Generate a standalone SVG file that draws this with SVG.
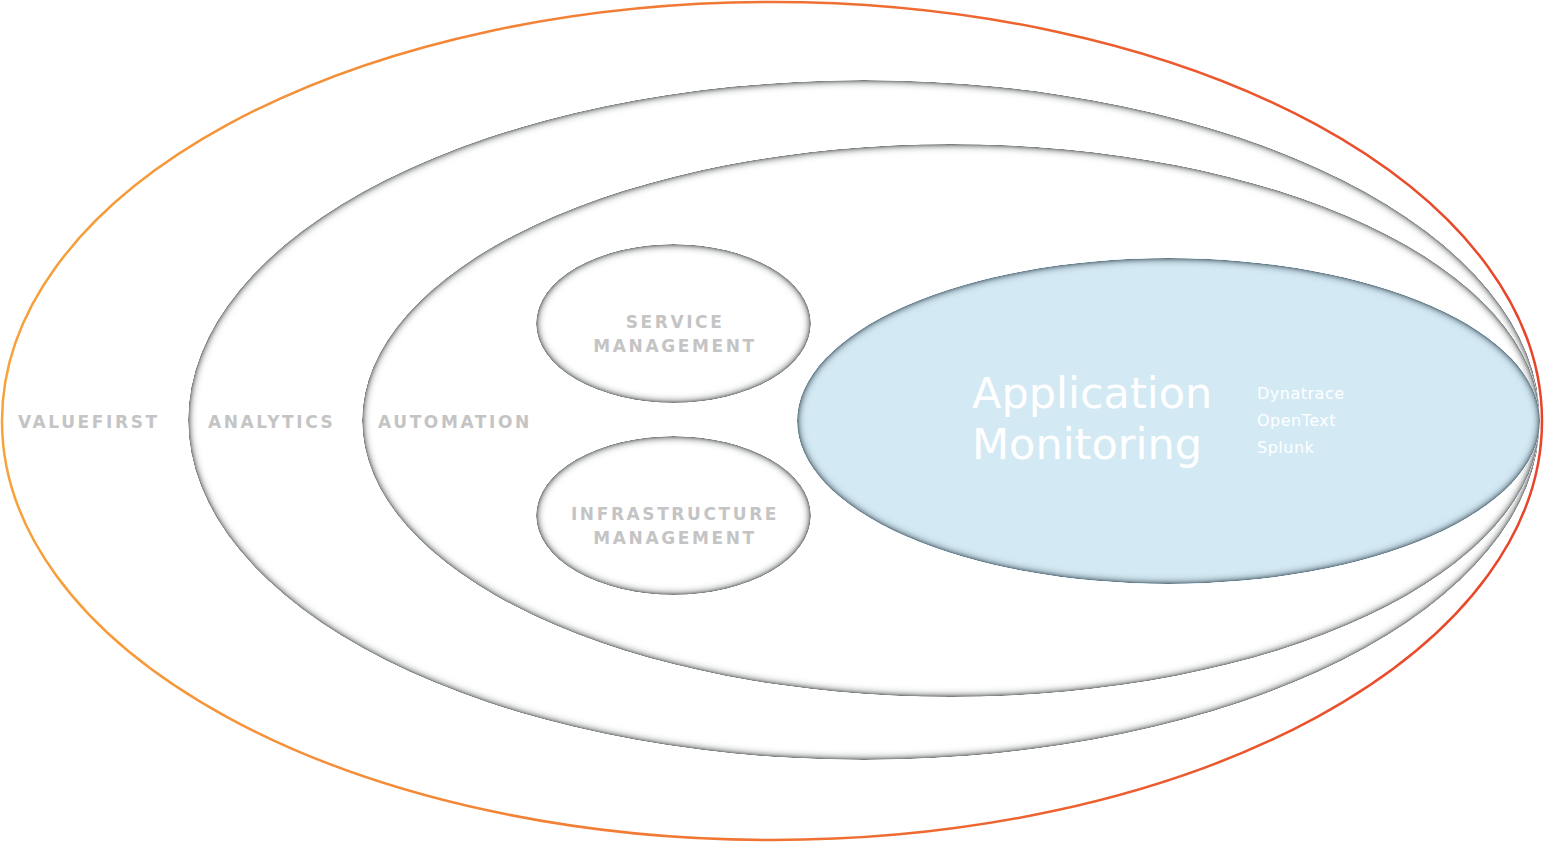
<svg xmlns="http://www.w3.org/2000/svg" width="1544" height="843" viewBox="0 0 1544 843">
<defs>
  <linearGradient id="orange" x1="0" y1="0" x2="1" y2="0">
    <stop offset="0" stop-color="#f7a23b"/>
    <stop offset="1" stop-color="#e8442a"/>
  </linearGradient>
  <filter id="inset" x="-5%" y="-5%" width="110%" height="110%">
    <feGaussianBlur in="SourceAlpha" stdDeviation="4" result="blur"/>
    <feComposite in="SourceAlpha" in2="blur" operator="arithmetic" k2="1.9" k3="-1.9" result="inner"/>
    <feFlood flood-color="#4a5256" flood-opacity="1"/>
    <feComposite in2="inner" operator="in" result="shadow"/>
    <feMerge><feMergeNode in="SourceGraphic"/><feMergeNode in="shadow"/></feMerge>
  </filter>
  <filter id="insetBlue" x="-5%" y="-5%" width="110%" height="110%">
    <feGaussianBlur in="SourceAlpha" stdDeviation="4" result="blur"/>
    <feComposite in="SourceAlpha" in2="blur" operator="arithmetic" k2="1.9" k3="-1.9" result="inner"/>
    <feFlood flood-color="#3f5866" flood-opacity="1"/>
    <feComposite in2="inner" operator="in" result="shadow"/>
    <feMerge><feMergeNode in="SourceGraphic"/><feMergeNode in="shadow"/></feMerge>
  </filter>
  <style>
    .ring { fill: #ffffff; filter: url(#inset); }
    .app { fill: #d3eaf5; filter: url(#insetBlue); }
    .lbl { font-family: "DejaVu Sans", "Liberation Sans", sans-serif; font-weight: bold; font-size: 17px; letter-spacing: 2.6px; fill: #c4c4c4; }
    .mid { text-anchor: middle; }
    .title { font-family: "DejaVu Sans", "Open Sans", sans-serif; font-size: 43px; fill: #ffffff; }
    .tool { font-family: "DejaVu Sans", "Open Sans", sans-serif; font-size: 16px; letter-spacing: 0.5px; fill: #ffffff; }
  </style>
</defs>
<g id="valuefirst">
  <ellipse cx="772" cy="421" rx="770" ry="419" fill="#ffffff" stroke="url(#orange)" stroke-width="2.5"/>
  <text class="lbl" x="18" y="428">VALUEFIRST</text>
</g>
<g id="analytics">
  <ellipse class="ring" cx="864" cy="420" rx="676" ry="340"/>
  <text class="lbl" x="208" y="428">ANALYTICS</text>
</g>
<g id="automation">
  <ellipse class="ring" cx="951" cy="420.5" rx="589" ry="276.5"/>
  <text class="lbl" x="378" y="428">AUTOMATION</text>
</g>
<g id="service-management">
  <ellipse class="ring" cx="673.5" cy="323.5" rx="137.5" ry="79.5"/>
  <text class="lbl mid" x="675" y="328">SERVICE</text>
  <text class="lbl mid" x="675" y="352">MANAGEMENT</text>
</g>
<g id="infrastructure-management">
  <ellipse class="ring" cx="673.5" cy="515.5" rx="137.5" ry="79.5"/>
  <text class="lbl mid" x="675" y="520">INFRASTRUCTURE</text>
  <text class="lbl mid" x="675" y="544">MANAGEMENT</text>
</g>
<g id="application-monitoring">
  <ellipse class="app" cx="1168.5" cy="421" rx="371.5" ry="163"/>
  <text class="title" x="972" y="408">Application</text>
  <text class="title" x="972" y="459">Monitoring</text>
  <text class="tool" x="1257" y="399">Dynatrace</text>
  <text class="tool" x="1257" y="426">OpenText</text>
  <text class="tool" x="1257" y="453">Splunk</text>
</g>
<g id="connectors"/>
</svg>
